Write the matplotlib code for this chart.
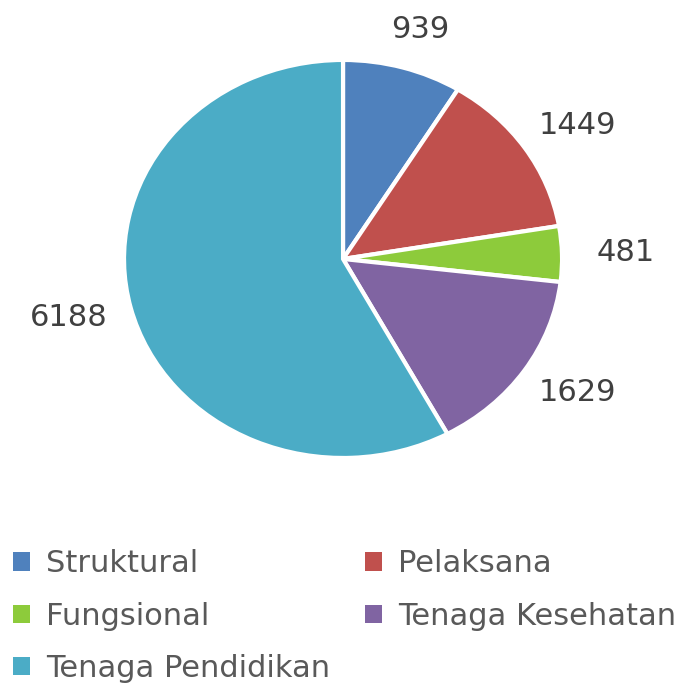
import matplotlib.pyplot as plt
from matplotlib.patches import Patch

# data
kategori = ['Struktural', 'Pelaksana', 'Fungsional', 'Tenaga Kesehatan', 'Tenaga Pendidikan']
jumlah = [939, 1449, 481, 1629, 6188]
warna = ['#4F81BD', '#C0504D', '#8DCB3B', '#8064A2', '#4BACC6']

plt.rcParams['font.family'] = ['DejaVu Sans']

fig = plt.figure(figsize=(6.86, 6.86), dpi=100)
# pie is a bit wider than tall in the original, so aspect is left on auto
ax = fig.add_axes([0.1808, 0.3324, 0.6385, 0.5802])

wedges, teks = ax.pie(jumlah, colors=warna, startangle=90, counterclock=False,
                      labels=[str(v) for v in jumlah], labeldistance=1.0,
                      wedgeprops=dict(edgecolor='white', linewidth=3),
                      textprops=dict(fontsize=22, color='#404040'))
# push the value labels out, a bit further sideways than up/down
for t in teks:
    x, y = t.get_position()
    t.set_position((x * 1.29, y * 1.2))
    t.set_horizontalalignment('center')
    t.set_verticalalignment('center')
ax.set_aspect('auto')
ax.set_xlim(-1, 1)
ax.set_ylim(-1, 1)

# legend: filled column-wise, so reorder to get the row layout
urutan = [0, 2, 4, 1, 3]
handles = [Patch(facecolor=warna[i], edgecolor='none') for i in urutan]
fig.legend(handles, [kategori[i] for i in urutan], ncol=2, loc='upper left',
           bbox_to_anchor=(0.019, 0.199), frameon=False, fontsize=22,
           labelcolor='#595959', handlelength=0.56, handleheight=0.56,
           handletextpad=0.52, columnspacing=1.15, labelspacing=0.76,
           borderpad=0, borderaxespad=0)

fig.savefig('out.png', dpi=100)
